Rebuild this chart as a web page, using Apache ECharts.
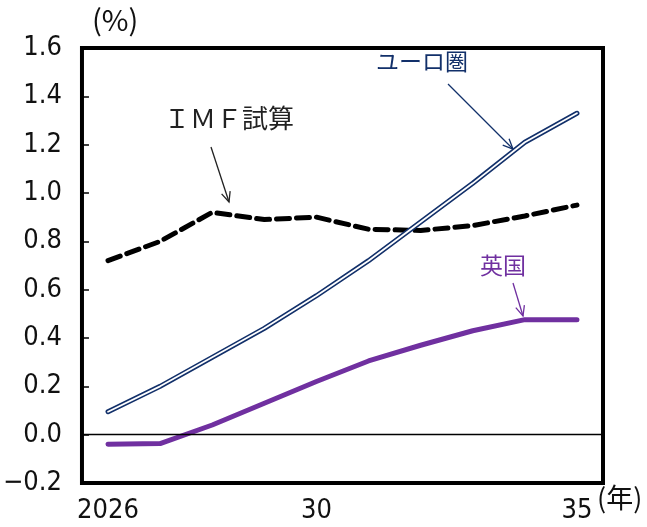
<!DOCTYPE html>
<html>
<head>
<meta charset="utf-8">
<script src="https://cdn.jsdelivr.net/npm/echarts@6/dist/echarts.min.js"></script>
<style>
  html, body { margin: 0; padding: 0; background: #fff; }
  #chart { width: 647px; height: 527px; }
</style>
</head>
<body>
<div id="chart"></div>
<script>
const years = ["2026", "27", "28", "29", "30", "31", "32", "33", "34", "35"];
const euroArea = [0.095, 0.20, 0.32, 0.44, 0.575, 0.72, 0.88, 1.04, 1.21, 1.33];
const imfEstimate = [0.72, 0.80, 0.92, 0.89, 0.90, 0.85, 0.845, 0.865, 0.905, 0.95];
const uk = [-0.04, -0.037, 0.04, 0.13, 0.22, 0.305, 0.37, 0.43, 0.476, 0.476];
const shownYearIdx = [0, 4, 9];

const NUM_FONT = '"Liberation Sans Narrow", "DejaVu Sans Condensed", "Noto Sans", sans-serif';
const FONT = '"Noto Sans CJK JP", "Noto Sans", sans-serif';
const NAVY = "#12306a";
const PURPLE = "#7030a0";

// arrow made of a shaft and an open head
function arrow(x1, y1, x2, y2, color) {
  const dx = x2 - x1, dy = y2 - y1;
  const len = Math.sqrt(dx * dx + dy * dy);
  const ux = dx / len, uy = dy / len;
  const h = 11, a = 0.42;
  const cos = Math.cos(a), sin = Math.sin(a);
  const lx = x2 - h * (ux * cos - uy * sin), ly = y2 - h * (uy * cos + ux * sin);
  const rx = x2 - h * (ux * cos + uy * sin), ry = y2 - h * (uy * cos - ux * sin);
  return [
    { type: "line", shape: { x1, y1, x2, y2 }, style: { stroke: color, lineWidth: 1.3 } },
    { type: "polyline", shape: { points: [[lx, ly], [x2, y2], [rx, ry]] }, style: { stroke: color, lineWidth: 1.3, fill: null } }
  ];
}

const chart = echarts.init(document.getElementById("chart"));

const option = {
  animation: false,
  backgroundColor: "#fff",
  grid: {
    left: 81, top: 48, right: 44, bottom: 44,
    show: true, borderColor: "#000", borderWidth: 4, backgroundColor: "transparent"
  },
  xAxis: {
    type: "category",
    data: years,
    boundaryGap: true,
    axisLine: { show: false },
    axisTick: { show: false },
    axisLabel: {
      interval: (i) => shownYearIdx.includes(i),
      color: "#111", fontFamily: NUM_FONT, fontSize: 27, margin: 14
    }
  },
  yAxis: {
    type: "value",
    min: -0.2, max: 1.6, interval: 0.2,
    axisLine: { show: false },
    axisTick: { show: true, inside: true, length: 7, lineStyle: { color: "#000", width: 1.5 } },
    splitLine: { show: false },
    axisLabel: {
      color: "#111", fontFamily: NUM_FONT, fontSize: 27, margin: 20,
      formatter: (v) => (Math.round(v * 10) / 10).toFixed(1).replace("-", "−")
    }
  },
  series: [
    {
      name: "zero",
      type: "line",
      data: [],
      markLine: {
        silent: true, symbol: "none", label: { show: false },
        lineStyle: { color: "#000", type: "solid", width: 1.3 },
        data: [{ yAxis: 0 }]
      }
    },
    {
      name: "IMF試算",
      type: "line",
      data: imfEstimate,
      symbol: "none",
      lineStyle: { color: "#000", width: 5, type: [13, 7], cap: "round" }
    },
    {
      name: "ユーロ圏",
      type: "line",
      data: euroArea,
      symbol: "none",
      lineStyle: { color: NAVY, width: 5, cap: "round" }
    },
    {
      name: "ユーロ圏_inner",
      type: "line",
      data: euroArea,
      symbol: "none",
      lineStyle: { color: "#fff", width: 1.8, cap: "round" }
    },
    {
      name: "英国",
      type: "line",
      data: uk,
      symbol: "none",
      lineStyle: { color: PURPLE, width: 5, cap: "round" }
    }
  ],
  graphic: [
    { type: "text", left: 92, top: 5, style: { text: "(%)", font: "29px " + FONT, fill: "#111" } },
    { type: "text", left: 597, top: 484, style: { text: "(年)", font: "27px " + FONT, fill: "#111" } },
    { type: "text", left: 376, top: 50, style: { text: "ユーロ圏", font: "23px " + FONT, fill: NAVY } },
    { type: "text", left: 164, top: 105, style: { text: "ＩＭＦ試算", font: "26px " + FONT, fill: "#222" } },
    { type: "text", left: 480, top: 254, style: { text: "英国", font: "23px " + FONT, fill: PURPLE } },
    ...arrow(448, 84, 513, 149, NAVY),
    ...arrow(211, 147, 229, 202, "#222"),
    ...arrow(513, 283, 523, 316, PURPLE)
  ]
};

chart.setOption(option);
</script>
</body>
</html>
